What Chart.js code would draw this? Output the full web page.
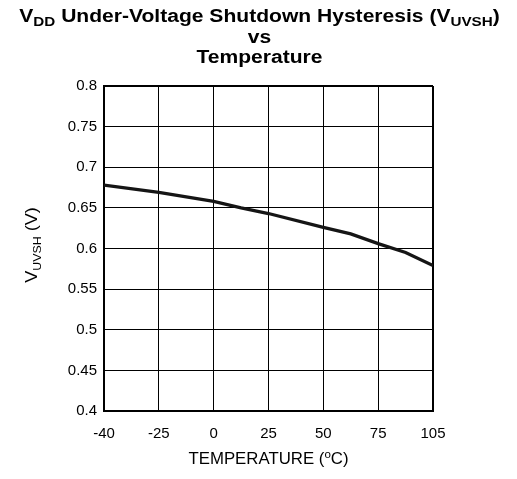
<!DOCTYPE html>
<html>
<head>
<meta charset="utf-8">
<script src="https://cdn.jsdelivr.net/npm/chart.js@4/dist/chart.umd.min.js"></script>
<style>
html,body{margin:0;padding:0;background:#fff;}
canvas{display:block;}
</style>
</head>
<body>
<canvas id="c" width="517" height="479"></canvas>
<script>
// ---- data ----
const tempLabels = ['-40', '-25', '0', '25', '50', '75', '105'];   // evenly spaced category ticks
const pointPos   = [0, 1, 2, 2.5, 3, 4, 4.5, 5, 5.5, 6];            // position along the temperature axis (tick index units)
const vuvsh      = [0.678, 0.669, 0.658, 0.650, 0.643, 0.626, 0.618, 0.606, 0.595, 0.579];
const yMin = 0.4, yMax = 0.8, yStep = 0.05;

const titleLines = [
  [['V', 0], ['DD', 1], [' Under-Voltage Shutdown Hysteresis (V', 0], ['UVSH', 1], [')', 0]],
  [['vs', 0]],
  [['Temperature', 0]]
];
const yTitle = [['V', 0], ['UVSH', 1], [' (V)', 0]];
const xTitle = [['TEMPERATURE (', 0], ['o', 2], ['C)', 0]];

const FONT = '"Liberation Sans", Arial, Helvetica, sans-serif';

// draws a line of text with sub/superscripts, centred on cx, optionally stretched along the text direction
function drawRich(ctx, segs, cx, baseY, size, bold, stretch) {
  const w = bold ? 'bold ' : '';
  const subSize = Math.round(size * 0.7);
  let total = 0;
  const widths = segs.map(([t, k]) => {
    ctx.font = w + (k ? subSize : size) + 'px ' + FONT;
    const m = ctx.measureText(t).width;
    total += m;
    return m;
  });
  ctx.save();
  ctx.translate(cx, baseY);
  ctx.scale(stretch, 1);
  let x = -total / 2;
  segs.forEach(([t, k], i) => {
    ctx.font = w + (k ? subSize : size) + 'px ' + FONT;
    let y = 0;
    if (k === 1) y = size * 0.22;
    if (k === 2) y = -size * 0.38;
    ctx.fillText(t, x, y);
    x += widths[i];
  });
  ctx.restore();
}

const textPlugin = {
  id: 'richText',
  afterDraw(chart) {
    const ctx = chart.ctx;
    const ca = chart.chartArea;
    ctx.save();
    ctx.fillStyle = '#000';
    ctx.textAlign = 'left';
    ctx.textBaseline = 'alphabetic';
    const cx = chart.width / 2 + 1;
    drawRich(ctx, titleLines[0], cx, 22, 18, true, 1.17);
    drawRich(ctx, titleLines[1], cx, 43, 18, true, 1.17);
    drawRich(ctx, titleLines[2], cx, 63, 18, true, 1.17);
    drawRich(ctx, xTitle, (ca.left + ca.right) / 2, 464, 16, false, 1.05);
    ctx.translate(37, 245);
    ctx.rotate(-Math.PI / 2);
    drawRich(ctx, yTitle, 0, 0, 16, false, 1.13);
    ctx.restore();
  }
};

const edgeWidth = (c) => (c.index === 0 || c.index === c.scale.ticks.length - 1) ? 2 : 1;

new Chart(document.getElementById('c'), {
  type: 'line',
  data: {
    datasets: [{
      data: pointPos.map((p, i) => ({ x: p, y: vuvsh[i] })),
      borderColor: '#151515',
      borderWidth: 3.2,
      pointRadius: 0,
      tension: 0,
      fill: false
    }]
  },
  options: {
    responsive: false,
    animation: false,
    devicePixelRatio: 1,
    layout: { padding: { top: 86, right: 84, left: 0, bottom: 0 } },
    plugins: { legend: { display: false }, title: { display: false }, tooltip: { enabled: false } },
    scales: {
      x: {
        type: 'linear',
        min: 0,
        max: tempLabels.length - 1,
        afterFit: (s) => { s.height = 68; },
        ticks: {
          stepSize: 1,
          padding: 14,
          color: '#000',
          font: { family: FONT, size: 15 },
          callback: (v) => tempLabels[v] !== undefined ? tempLabels[v] : ''
        },
        grid: { color: '#000', lineWidth: edgeWidth, drawTicks: false },
        border: { color: '#000', width: 2 }
      },
      y: {
        min: yMin,
        max: yMax,
        afterFit: (s) => { s.width = 104; },
        ticks: {
          stepSize: yStep,
          padding: 7,
          color: '#000',
          font: { family: FONT, size: 15 },
          callback: (v) => String(Number(v.toFixed(2)))
        },
        grid: { color: '#000', lineWidth: edgeWidth, drawTicks: false },
        border: { color: '#000', width: 2 }
      }
    }
  },
  plugins: [textPlugin]
});
</script>
</body>
</html>
